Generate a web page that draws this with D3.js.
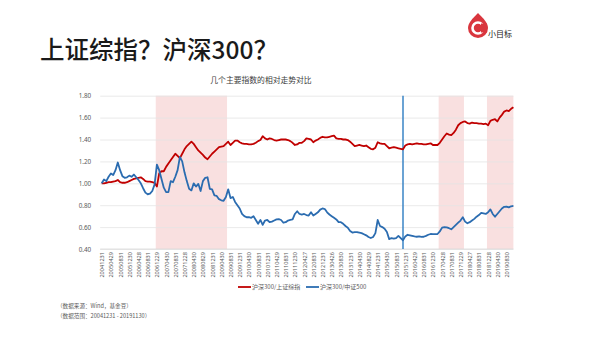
<!DOCTYPE html>
<html>
<head>
<meta charset="utf-8">
<script src="https://cdn.jsdelivr.net/npm/d3@7"></script>
<style>
  html, body { margin: 0; padding: 0; background: #fff; }
  svg { display: block; font-family: "Noto Sans CJK SC", "Noto Sans", sans-serif; }
</style>
</head>
<body>
<svg id="chart" width="600" height="338"></svg>
<script>
// Monthly relative ratios, 2004-12 .. 2019-11 (base = 1.00)
const hs300VsSse = [
  1.00,1.00,1.005,1.01,1.01,1.015,1.02,1.03,1.01,1.005,1.005,1.01,1.02,1.03,1.04,1.045,1.05,1.055,1.04,1.02,
  1.015,1.015,1.01,1.005,0.97,1.09,1.11,1.11,1.15,1.18,1.21,1.24,1.27,1.25,1.23,1.27,1.31,1.34,1.36,1.38,
  1.36,1.33,1.30,1.28,1.26,1.235,1.22,1.245,1.27,1.29,1.31,1.33,1.335,1.34,1.36,1.38,1.35,1.37,1.39,1.39,
  1.375,1.365,1.36,1.36,1.355,1.355,1.36,1.37,1.385,1.395,1.43,1.41,1.40,1.41,1.405,1.395,1.39,1.395,1.40,1.40,
  1.40,1.395,1.385,1.37,1.35,1.355,1.37,1.37,1.385,1.41,1.405,1.40,1.375,1.39,1.40,1.415,1.425,1.42,1.42,1.425,
  1.43,1.435,1.41,1.405,1.405,1.40,1.40,1.395,1.38,1.36,1.34,1.345,1.35,1.345,1.34,1.345,1.33,1.315,1.31,1.325,
  1.375,1.365,1.36,1.36,1.34,1.32,1.325,1.33,1.325,1.32,1.315,1.31,1.345,1.355,1.36,1.355,1.36,1.365,1.36,1.36,
  1.355,1.355,1.36,1.365,1.35,1.35,1.35,1.37,1.40,1.43,1.455,1.445,1.44,1.46,1.49,1.53,1.55,1.56,1.565,1.55,
  1.545,1.555,1.55,1.55,1.545,1.545,1.54,1.545,1.53,1.57,1.58,1.585,1.565,1.60,1.625,1.655,1.665,1.66,1.68,1.695
];
const hs300VsCsi500 = [
  1.00,1.035,1.02,1.06,1.09,1.075,1.12,1.19,1.12,1.065,1.05,1.055,1.07,1.06,1.08,1.055,1.03,1.00,0.955,0.915,
  0.90,0.905,0.93,0.99,1.17,1.12,1.04,0.96,0.92,0.92,1.02,1.01,1.06,1.12,1.24,1.20,1.10,1.02,0.95,0.935,
  1.00,0.97,0.995,0.93,1.02,1.05,1.055,0.95,0.945,0.89,0.885,0.855,0.845,0.84,0.875,0.945,0.865,0.875,0.83,0.80,
  0.77,0.72,0.70,0.69,0.69,0.685,0.70,0.665,0.63,0.665,0.62,0.66,0.665,0.645,0.65,0.66,0.67,0.672,0.665,0.64,
  0.645,0.66,0.665,0.67,0.72,0.745,0.72,0.715,0.72,0.71,0.705,0.735,0.705,0.72,0.735,0.76,0.77,0.765,0.735,0.715,
  0.70,0.685,0.67,0.645,0.645,0.63,0.61,0.595,0.565,0.55,0.555,0.555,0.55,0.545,0.535,0.525,0.51,0.50,0.51,0.545,
  0.665,0.61,0.60,0.585,0.555,0.49,0.50,0.495,0.50,0.52,0.50,0.48,0.515,0.53,0.525,0.52,0.515,0.512,0.515,0.51,
  0.512,0.52,0.53,0.537,0.535,0.535,0.537,0.56,0.595,0.60,0.598,0.59,0.58,0.60,0.62,0.64,0.66,0.69,0.65,0.635,
  0.645,0.66,0.675,0.695,0.71,0.73,0.725,0.72,0.735,0.762,0.72,0.695,0.72,0.745,0.77,0.785,0.787,0.78,0.79,0.793
];
const seriesNames = ["沪深300/上证综指", "沪深300/中证500"];
const seriesColors = ["#c00000", "#2b6cb0"];
// one label every fourth month
const tickLabels = [
  "20041231","20050429","20050831","20051230","20060428","20060831","20061229","20070430","20070831","20071228",
  "20080430","20080829","20081231","20090430","20090831","20091231","20100430","20100831","20101231","20110429",
  "20110831","20111230","20120427","20120831","20121231","20130426","20130830","20131231","20140430","20140829",
  "20141231","20150430","20150831","20151231","20160429","20160831","20161230","20170428","20170831","20171229",
  "20180427","20180831","20181228","20190430","20190830"
];
const yTicks = [0.4, 0.6, 0.8, 1.0, 1.2, 1.4, 1.6, 1.8];
// highlighted periods (month index ranges, inclusive)
const shadedPeriods = [[24, 54], [147, 157], [168, 179]];
const markerMonth = 131; // 2015-11

const svg = d3.select("#chart");
const plot = { left: 101.7, right: 513.4, top: 95.7, bottom: 249 };

const n = hs300VsSse.length;
const x = d3.scaleLinear().domain([0, n - 1]).range([plot.left, plot.right]);
const y = d3.scaleLinear().domain([0.4, 1.8]).range([plot.bottom, plot.top]);
const half = (x(1) - x(0)) / 2;

// page title
svg.append("text")
  .attr("x", 40).attr("y", 58.5)
  .attr("font-size", 24.5).attr("font-weight", 500).attr("fill", "#1a1a1a")
  .text("上证综指？沪深300？");

// logo
const logo = svg.append("g").attr("transform", "translate(478,25)");
logo.append("path")
  .attr("d", "M0,-12 C6,-6 10,-2 10,3 A10,10 0 1 1 -10,3 C-10,-2 -6,-6 0,-12 Z")
  .attr("fill", "#d9363e");
logo.append("circle").attr("cx", 0).attr("cy", 3).attr("r", 5.5)
  .attr("fill", "none").attr("stroke", "#fff").attr("stroke-width", 2.6);
logo.append("circle").attr("cx", 2).attr("cy", 3).attr("r", 2.4).attr("fill", "#d9363e");
logo.append("rect").attr("x", 3).attr("y", -1.5).attr("width", 6).attr("height", 9).attr("fill", "#d9363e");
svg.append("text")
  .attr("x", 488).attr("y", 36.5)
  .attr("font-size", 8).attr("fill", "#222")
  .text("小目标");

// chart title
svg.append("text")
  .attr("x", 261).attr("y", 83)
  .attr("text-anchor", "middle")
  .attr("font-size", 7.8).attr("fill", "#404040")
  .text("几个主要指数的相对走势对比");

// shaded periods
svg.append("g").selectAll("rect")
  .data(shadedPeriods)
  .join("rect")
  .attr("x", d => Math.max(plot.left, x(d[0]) - half))
  .attr("width", d => Math.min(plot.right, x(d[1]) + half) - Math.max(plot.left, x(d[0]) - half))
  .attr("y", plot.top)
  .attr("height", plot.bottom - plot.top)
  .attr("fill", "#f9e0e0");

// horizontal gridlines + y labels
const yAxis = d3.axisLeft(y)
  .tickValues(yTicks)
  .tickSize(-(plot.right - plot.left + 1.5))
  .tickPadding(9)
  .tickFormat(d3.format(".2f"));
const gy = svg.append("g")
  .attr("transform", `translate(${plot.left - 1.5},0)`)
  .call(yAxis);
gy.select(".domain").remove();
gy.selectAll("line").attr("stroke", "#e4e4e4").attr("stroke-width", 0.8);
gy.selectAll("text")
  .attr("fill", "#595959").attr("font-size", 6.3)
  .attr("font-family", "'Noto Sans', sans-serif");

// x axis labels
const xAxis = d3.axisBottom(x)
  .tickValues(tickLabels.map((_, i) => i * 4))
  .tickSize(0)
  .tickFormat((d, i) => tickLabels[i]);
const gx = svg.append("g")
  .attr("transform", `translate(0,${plot.bottom})`)
  .call(xAxis);
gx.select(".domain").attr("stroke", "#d9d9d9").attr("stroke-width", 0.8)
  .attr("d", `M${plot.left - 1.5},0H${plot.right}`);
gx.selectAll("text")
  .attr("fill", "#595959").attr("font-size", 5.6)
  .attr("font-family", "'Noto Sans', sans-serif")
  .attr("text-anchor", "end")
  .attr("transform", "rotate(-90)")
  .attr("x", -3).attr("y", 0).attr("dy", "0.35em");

// marker line
svg.append("line")
  .attr("x1", x(markerMonth)).attr("x2", x(markerMonth))
  .attr("y1", plot.top).attr("y2", plot.bottom)
  .attr("stroke", "#3a84c6").attr("stroke-width", 1.5);

// series lines
const line = d3.line().x((d, i) => x(i)).y(d => y(d));
[hs300VsSse, hs300VsCsi500].forEach((vals, k) => {
  svg.append("path")
    .datum(vals)
    .attr("fill", "none")
    .attr("stroke", seriesColors[k])
    .attr("stroke-width", 1.8)
    .attr("stroke-linejoin", "round")
    .attr("d", line);
});

// legend
const legendX = [238, 306];
const legend = svg.append("g");
seriesNames.forEach((name, k) => {
  legend.append("line")
    .attr("x1", legendX[k]).attr("x2", legendX[k] + 13)
    .attr("y1", 287).attr("y2", 287)
    .attr("stroke", seriesColors[k]).attr("stroke-width", 1.8);
  legend.append("text")
    .attr("x", legendX[k] + 14).attr("y", 289.3)
    .attr("font-size", 6).attr("fill", "#595959")
    .text(name);
});

// footnotes
svg.append("text").attr("x", 57).attr("y", 307.5)
  .attr("font-size", 5.6).attr("fill", "#595959")
  .text("（数据来源：Wind，基金豆）");
svg.append("text").attr("x", 57).attr("y", 318)
  .attr("font-size", 5.6).attr("fill", "#595959")
  .text("（数据范围：20041231 - 20191130）");
</script>
</body>
</html>
